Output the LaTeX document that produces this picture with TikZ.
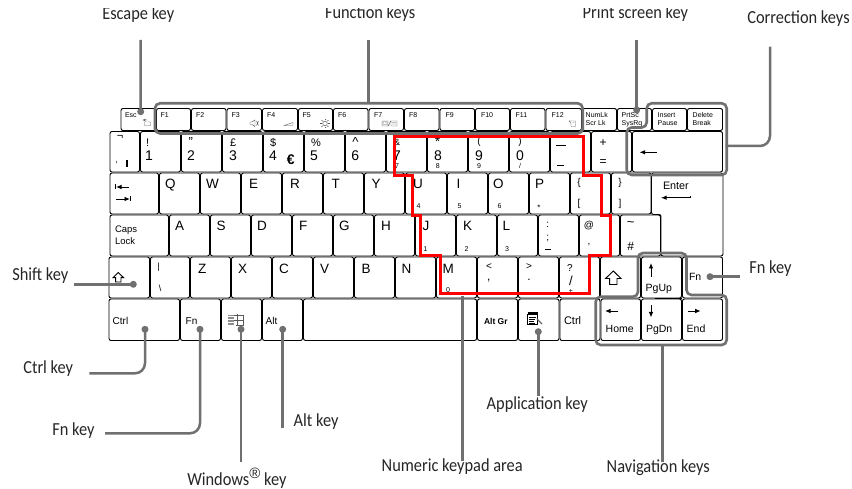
\documentclass[tikz,border=0pt]{standalone}
\usepackage{fontspec}
\setmainfont{Liberation Sans}
\newfontfamily\labfont[FakeStretch=0.89]{Carlito}
\usetikzlibrary{arrows.meta}
\definecolor{leadgrey}{HTML}{707070}
\definecolor{labink}{HTML}{262626}
\newcounter{lbl}
\tikzset{
 x=1pt,y=-1pt,
 kbox/.style={draw=black,line width=.95pt,rounded corners=2pt,inner sep=0pt,outer sep=0pt,fill=white},
 kpath/.style={draw=black,line width=.95pt,rounded corners=2pt,fill=white},
 ktext/.style={inner sep=0pt,outer sep=0pt,text=black},
 lead/.style={draw=leadgrey,line width=2.5pt,rounded corners=10pt},
 group/.style={draw=leadgrey,line width=2.6pt,rounded corners=5pt},
 redarea/.style={draw=red,line width=3pt,miter limit=10},
 gdot/.style={circle,fill=leadgrey,inner sep=0pt,minimum size=7pt},
 keylabel/.style={inner sep=0pt,outer sep=0pt,anchor=base west,text=labink,font=\labfont\fontsize{18.4}{19}\selectfont},
 arrowk/.style={line width=.9pt,-{Latex[length=5.5pt,width=4.5pt]}},
 icon/.style={draw=black!65,line width=.45pt}
}
\newcommand{\kb}[5]{%
 \pgfmathsetmacro{\kbw}{#3-#2-1}\pgfmathsetmacro{\kbh}{#5-#4-1}%
 \pgfmathsetmacro{\kbx}{(#2+#3)/2}\pgfmathsetmacro{\kby}{(#4+#5)/2}%
 \node[kbox,minimum width=\kbw pt,minimum height=\kbh pt] (#1) at (\kbx,\kby) {};}
% text whose base line starts at x,y
\newcommand{\kt}[4]{\stepcounter{lbl}\edef\kname{t\the\value{lbl}}%
 \node[ktext,anchor=base west] (\kname) at (#1,#2) {\fontsize{#3}{#3}\selectfont #4};}
% text centred on x,y
\newcommand{\kc}[4]{\stepcounter{lbl}\edef\kname{t\the\value{lbl}}%
 \node[ktext,anchor=center] (\kname) at (#1,#2) {\fontsize{#3}{#3}\selectfont #4};}
\begin{document}
\begin{tikzpicture}
\useasboundingbox (0,0) rectangle (852,489);
\fill[white] (0,0) rectangle (852,489);
% ---------- keys
\foreach \a/\b [count=\i] in {120.5/156,156/191,191/226.5,226.5/262,262/298,298/333,333/368.5,368.5/404,404/439.5,439.5/475,475/510,510/545.5,545.5/582,582/617,617/652,652/687,687/723}
 {\kb{fk\i}{\a}{\b}{108}{131}}
\foreach \a/\b [count=\i] in {109.5/140,140/181,181/222,222/263,263/304,304/345,345/386,386/427,427/468,468/509,509/550,550/591,591/632,632/723}
 {\kb{na\i}{\a}{\b}{131}{172.5}}
\foreach \a/\b [count=\i] in {109.5/159,159/200,200/241,241/282,282/323,323/364,364/405,405/447,447/488,488/529,529/570,570/611,611/651.5}
 {\kb{qw\i}{\a}{\b}{172.5}{214.5}}
\foreach \a/\b [count=\i] in {109.5/169,169/210,210/251,251/292,292/333,333/374,374/415,415/456,456/497,497/538,538/579,579/620,620/661}
 {\kb{as\i}{\a}{\b}{214.5}{256.5}}
\foreach \a/\b [count=\i] in {108.5/150,150/190,190/231,231/272,272/313,313/354,354/395,395/436,436/477,477/518,518/559,559/600,600/641,641/682,682/723}
 {\kb{zx\i}{\a}{\b}{256.5}{298.5}}
\foreach \a/\b [count=\i] in {108.5/180,180/221,221/262,262/303,303/477,477/518,518/559.5,559.5/600.5,600.5/641,641/682,682/723}
 {\kb{bt\i}{\a}{\b}{298.5}{341}}
\path[kpath] (651.5,173) -- (723,173) -- (723,256) -- (661,256) -- (661,214.5) -- (651.5,214.5) -- cycle;
\draw[line width=1.4pt] (655,298.3) -- (682,298.3);
% ---------- function row text
\kt{125}{117.6}{7}{Esc}
\foreach \x/\t in {160.7/F1,196/F2,231.7/F3,267/F4,302.7/F5,338/F6,374/F7,409/F8,445.7/F9,481/F10,515.7/F11,551.7/F12}
 {\kt{\x}{117.6}{7}{\t}}
\kt{585.7}{117.4}{7}{NumLk}\kt{585.7}{125.8}{7}{Scr Lk}
\kt{621.7}{117.4}{7}{PrtSc}\kt{621.7}{125.8}{7}{SysRq}
\kt{657.7}{117.4}{7}{Insert}\kt{657.7}{125.8}{7}{Pause}
\kt{692.7}{117.4}{7}{Delete}\kt{692.7}{125.8}{7}{Break}
% function row icons
\draw[icon] (143,120) -- (147,120) (146,119) -- (143,120) -- (146,121.5) (144.5,122) -- (144.5,125.5) -- (150.5,125.5) -- (150.5,122) -- (147.5,122);
\draw[icon] (250,122) -- (252,122) -- (255,120) -- (255,126.5) -- (252,124.5) -- (250,124.5) -- cycle (256.5,121) -- (258.5,125.5) (258.5,121) -- (256.5,125.5);
\draw[icon] (284,125.5) -- (293,125.5) -- (293,122.5) -- cycle;
\draw[icon] (325,123.5) circle (2.3pt);
\foreach \ang in {0,45,...,315}{\draw[icon] (325,123.5) ++(\ang:3.2pt) -- ++(\ang:1.6pt);}
\draw[icon] (382,121) rectangle (388,126) (383,122) rectangle (387,124.5) (388.5,126) -- (390.5,121) (391,121) rectangle (397,126) (392,122.5) -- (396,122.5) (392,124) -- (396,124);
\draw[icon] (569,121) -- (575.5,121) -- (575.5,126.5) -- (571,126.5) -- (571,123) (569,120.5) -- (570.5,123) (572.5,122.5) -- (574,122.5);
% ---------- number row
\kc{120}{137}{11}{¬}
\kc{116.5}{164}{9}{`}
\draw[line width=1.2pt] (127,160.5) -- (127,167);
\foreach \x/\u/\d in {149/!/1,233/£/3,273/\$/4,314/\%/5}
 {\kt{\x-3}{146.4}{11}{\u}\kt{\x-4}{160.4}{14}{\d}}
\kc{190.7}{142}{13}{"}\kt{187}{160.4}{14}{2}
\kc{355.5}{142.5}{13}{\textasciicircum}
\kt{351.3}{160.4}{14}{6}
\kc{290.7}{160}{14}{\textbf{€}}
\kc{397}{142}{9}{\&}\kt{393}{160.4}{14}{7}\kc{397}{166}{7}{7}
\kc{437.7}{142}{14}{*}\kt{434}{160.4}{14}{8}\kc{437.7}{166}{7}{8}
\kc{479}{142}{10}{(}\kt{475}{160.4}{14}{9}\kc{479}{166}{7}{9}
\kc{520}{142}{10}{)}\kt{516}{160.4}{14}{0}\kc{520}{166}{7}{/}
\draw[line width=.9pt] (556,145) -- (565.5,145) (557,165) -- (564,165);
\kc{603}{142.7}{12}{+}\kc{603}{163}{12}{=}
\draw[arrowk] (656.7,152.3) -- (639.5,152.3);
% ---------- QWERTY row
\draw[arrowk] (129,187) -- (116,187); \draw[line width=.9pt] (115.5,184.5) -- (115.5,189.5);
\draw[arrowk] (116,199) -- (130,199); \draw[line width=.9pt] (130.5,196.5) -- (130.5,201.5);
\foreach \x/\t in {165/Q,206/W,249/E,290/R,331.7/T,371.7/Y,413/U,456.7/I,493/O,535/P}
 {\kt{\x}{189}{13.5}{\t}}
\foreach \x/\t in {416.7/4,457.7/5,497.7/6}{\kt{\x}{209}{7}{\t}}
\kc{539}{208}{8}{*}
\kc{579}{183}{10}{\{}\kc{579}{204}{10}{[}
\kc{620}{183}{10}{\}}\kc{620}{204}{10}{]}
\kt{663}{190}{10.8}{Enter}
\draw[arrowk] (690.7,197.7) -- (661,197.7); \draw[line width=.9pt] (690.7,195.7) -- (690.7,198);
% ---------- home row
\kt{115}{232.8}{9.5}{Caps}\kt{115}{245}{9.5}{Lock}
\foreach \x/\t in {175/A,216.7/S,257/D,299/F,339/G,381/H,422.7/J,463/K,502.7/L}
 {\kt{\x}{231}{13.5}{\t}}
\foreach \x/\t in {425/1,466/2,506.7/3}{\kt{\x-1.5}{251.7}{7}{\t}}
\kc{547.7}{225}{10}{:}\kc{547.7}{238}{10}{;}
\draw[line width=.9pt] (545,249.3) -- (550.5,249.3);
\kc{589}{225.7}{10}{@}\kc{589}{245}{10}{,}
\kc{630.7}{224}{13}{\textasciitilde}\kc{630.7}{246}{12}{\#}
% ---------- bottom letter row
\draw[line width=.9pt,fill=white] (118.3,272.5) -- (123.6,277.7) -- (121,277.7) -- (121,282) -- (115.6,282) -- (115.6,277.7) -- (113,277.7) -- cycle;
\kc{158.5}{266.7}{9}{|}\kc{160}{288}{9}{\textbackslash}
\foreach \x/\t in {198/Z,238/X,279/C,320/V,361.7/B,401.7/N,442.7/M}
 {\kt{\x}{273.4}{13.5}{\t}}
\kt{446}{293}{7}{0}
\kc{489}{267}{10}{<}\kc{488.7}{281}{12}{,}
\kc{529}{267}{10}{>}\kc{529}{280}{12}{.}
\kc{570}{268.3}{10}{?}\kc{571}{280.7}{13}{/}\kc{571}{291.5}{7}{+}
\draw[line width=.95pt,fill=white] (613.3,271) -- (621,278.5) -- (617,278.5) -- (617,284.5) -- (609.6,284.5) -- (609.6,278.5) -- (605.6,278.5) -- cycle;
\draw[arrowk] (651,277) -- (651,263);
\kt{645.7}{291}{10.5}{PgUp}
\kt{689}{280.7}{10.5}{Fn}
% ---------- bottom row
\kt{112.7}{324.3}{10}{Ctrl}
\kt{185.7}{324.3}{10}{Fn}
\kt{265.7}{324.3}{10}{Alt}
\draw[icon] (233,315) -- (243,315) -- (243,325) -- (236,325) (237.5,314.5) -- (237.5,325) (233,320) -- (243,320);
\foreach \yy in {315.5,317,318.5,320,321.5,323,324.5}{\draw[draw=black!45,line width=.6pt] (228,\yy) -- (233.5,\yy);}
\kt{484}{324.3}{8.5}{\textbf{Alt Gr}}
\draw[line width=.8pt,fill=white] (527.5,314) rectangle (537.5,324.5);
\draw[line width=1.6pt] (527.5,313) -- (537.5,313);
\draw[line width=.6pt] (529,317) -- (536,317) (529,319) -- (535,319) (529,321) -- (534,321) (529,323) -- (535,323);
\draw[draw=black!60,line width=1.2pt] (537,319) -- (542,324);
\kt{564}{324.3}{11}{Ctrl}
\draw[arrowk] (618.3,311) -- (605,311);
\kt{605.7}{332.7}{10.5}{Home}
\draw[arrowk] (651,305.5) -- (651,317.5);
\kt{646}{332.7}{10.5}{PgDn}
\draw[arrowk] (688,311) -- (700.7,311);
\kt{686.7}{332.7}{10.5}{End}
% ---------- numeric area
\draw[redarea] (394,137) -- (583,137) -- (583,176) -- (601.7,176) -- (601.7,216) -- (610.7,216) -- (610.7,255.7) -- (589,255.7) -- (589,294) -- (440.7,294) -- (440.7,255.7) -- (420.7,255.7) -- (420.7,216) -- (412,216) -- (412,176) -- (394,176) -- cycle;
% ---------- groups
\draw[group] (155,103.3) rectangle (582.7,133.5);
\draw[group] (646.7,103.3) -- (726.7,103.3) -- (726.7,175) -- (626.7,175) -- (626.7,127.5) -- (646.7,127.5) -- cycle;
\draw[group] (638,253) -- (686.5,253) -- (686.5,295) -- (726.7,295) -- (726.7,345) -- (595.7,345) -- (595.7,296.7) -- (638,296.7) -- cycle;
% ---------- labels
\node[keylabel] (l-esc) at (102.3,19.3) {Escape key};
\node[keylabel] (l-fun) at (325,18.3) {Function keys};
\node[keylabel] (l-prt) at (582.7,18.3) {Print screen key};
\fill[white] (0,0) rectangle (852,7.8);
\node[keylabel] (l-cor) at (747.3,24) {Correction keys};
\node[keylabel] (l-shf) at (12.3,280.7) {Shift key};
\node[keylabel] (l-fnr) at (749.3,273.3) {Fn key};
\node[keylabel] (l-ctl) at (23.3,373.3) {Ctrl key};
\node[keylabel] (l-fnl) at (52.3,435) {Fn key};
\node[keylabel] (l-alt) at (293.7,426.7) {Alt key};
\node[keylabel] (l-win) at (187.3,485) {Windows\raisebox{6.5pt}{\normalfont\fontsize{15}{15}\selectfont ®} key};
\node[keylabel] (l-app) at (486.7,409.3) {Application key};
\node[keylabel] (l-num) at (381.7,471.7) {Numeric keypad area};
\node[keylabel] (l-nav) at (606.7,472.7) {Navigation keys};
% ---------- leaders
\node[gdot] (d-esc) at (140.7,111.7) {};
\node[gdot] (d-prt) at (636.7,110) {};
\node[gdot] (d-shf) at (133.3,284.3) {};
\node[gdot] (d-fnr) at (710,276.7) {};
\node[gdot] (d-ctl) at (145,329.3) {};
\node[gdot] (d-fnl) at (200,329.3) {};
\node[gdot] (d-win) at (241,329.3) {};
\node[gdot] (d-alt) at (282.7,329.3) {};
\node[gdot] (d-app) at (538.3,331.7) {};
\coordinate (c-esc) at (140.5,40);
\coordinate (c-fun) at (368.3,40);
\coordinate (c-funb) at (368.3,103.3);
\coordinate (c-prt) at (636.7,40);
\coordinate (c-cor) at (770,46.7);
\coordinate (c-corb) at (725.7,146);
\coordinate (c-shf) at (74.3,284.3);
\coordinate (c-fnr) at (740,276.7);
\coordinate (c-ctl) at (89.3,373.3);
\coordinate (c-fnl) at (105,433.3);
\coordinate (c-win) at (241,461.7);
\coordinate (c-alt) at (282.7,428);
\coordinate (c-app) at (538.3,396);
\coordinate (c-num) at (462.7,461);
\coordinate (c-numb) at (462.7,296);
\coordinate (c-nav) at (662.7,461.7);
\coordinate (c-navb) at (662.7,345);
\draw[lead] (c-esc) -- (d-esc.center);
\draw[lead] (c-fun) -- (c-funb);
\draw[lead] (c-prt) -- (d-prt.center);
\draw[lead] (c-cor) |- (c-corb);
\draw[lead] (c-shf) -- (d-shf.center);
\draw[lead] (c-fnr) -- (d-fnr.center);
\draw[lead] (d-ctl.center) |- (c-ctl);
\draw[lead] (d-fnl.center) |- (c-fnl);
\draw[lead] (d-win.center) -- (c-win);
\draw[lead] (d-alt.center) -- (c-alt);
\draw[lead] (d-app.center) -- (c-app);
\draw[lead] (c-numb) -- (c-num);
\draw[lead] (c-navb) -- (c-nav);
\end{tikzpicture}
\end{document}
